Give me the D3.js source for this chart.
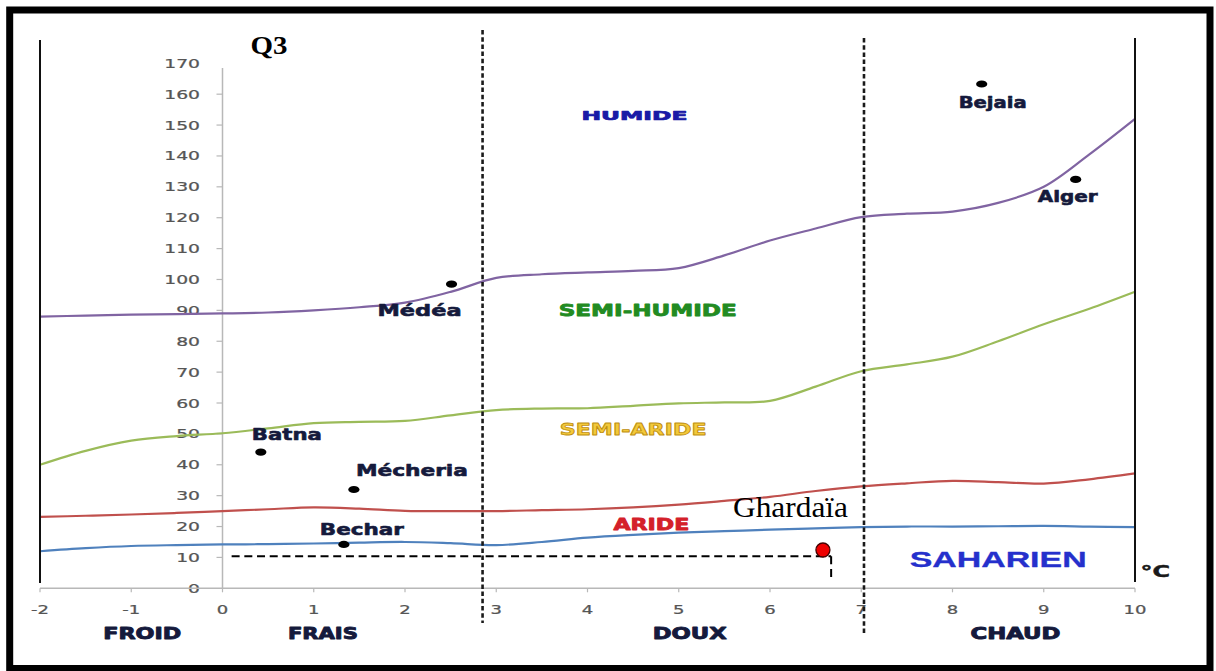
<!DOCTYPE html>
<html><head><meta charset="utf-8">
<script src="https://cdn.jsdelivr.net/npm/d3@7"></script>
<style>html,body{margin:0;padding:0;background:#fff;overflow:hidden}</style>
</head><body><svg id="c" width="1216" height="671"></svg>
<script>
// ---------- DATA ----------
const xTickValues = [-2,-1,0,1,2,3,4,5,6,7,8,9,10];
const yTickValues = [0,10,20,30,40,50,60,70,80,90,100,110,120,130,140,150,160,170];
const tempX = [-2,-1.5,-1,-0.5,0,0.5,1,1.5,2,2.5,3,3.5,4,4.5,5,5.5,6,6.5,7,7.5,8,8.5,9,9.5,10];
const limitHumide     = [88,88.3,88.6,88.8,89,89.3,90,91,92.5,96,100.5,101.7,102.3,102.8,103.7,107.8,112.6,116.5,120.2,121.3,122,124.8,130,140.5,152];
const limitSemiHumide = [40,44.5,47.8,49.3,50.2,51.8,53.5,53.9,54.2,56,57.7,58.2,58.3,59.1,59.9,60.2,60.7,65.3,70.3,72.5,75,80,85.5,90.5,96];
const limitSemiAride  = [23.1,23.5,23.9,24.4,25,25.6,26.2,25.8,25.1,25,25,25.3,25.6,26.2,27.1,28.3,29.6,31.5,33,34,34.8,34.4,33.9,35.3,37.2];
const limitAride      = [12,13,13.7,14,14.2,14.3,14.5,14.8,15,14.6,14,15,16.4,17.3,18,18.5,19,19.4,19.8,20,20,20.1,20.2,20,19.8];
const stationNames = ["Médéa","Batna","Mécheria","Bechar","Bejaia","Alger"];
const stationM     = [2.51,0.42,1.44,1.33,8.32,9.35];
const stationQ3    = [98.5,44.1,32.0,14.2,163.3,132.4];
const ghardaia     = {name:"Ghardaïa", m:6.58, q3:12.4};
const ghardaiaGuide = {m:6.67, q3:10.4, mStart:0.1, q3Bottom:3.3};
const zoneBounds = [2.85, 7.03];
const zoneNames = ["FROID","FRAIS","DOUX","CHAUD"];
const zoneCenters = [-0.88, 1.1, 5.12, 8.69];
const regionNames = ["HUMIDE","SEMI-HUMIDE","SEMI-ARIDE","ARIDE","SAHARIEN"];
const regionM  = [4.515, 4.66, 4.5, 4.7, 8.5];
const regionQ3 = [151.6, 88.2, 49.8, 18.9, 7.0];

// ---------- STYLE ----------
const svg = d3.select("#c");
const x = d3.scaleLinear().domain([-2,10]).range([40,1135]);
const y = d3.scaleLinear().domain([0,170]).range([588.3,63.3]);
const navy = "#151a3c";
const curveColors = ["#8064a2","#9bbb59","#c0504d","#4f81bd"];
const regionStyle = [
  {fill:"#1a1aa6", size:13, w:106, font:"DejaVu Sans", weight:"bold", sw:0.7},
  {fill:"#228b22", size:16, w:178, font:"DejaVu Sans", weight:"bold", sw:0.8},
  {fill:"#f3c93a", size:16, w:147, font:"DejaVu Sans", weight:"bold", stroke:"#c09010", sw:0.8},
  {fill:"#d4202a", size:16, w:76,  font:"DejaVu Sans", weight:"bold", sw:0.8},
  {fill:"#2530cc", size:22, w:177, font:"Liberation Sans", weight:"bold", sw:0.3}
];
const stationLabel = [
  {dx:-32, dy:32, w:84},   // Médéa
  {dx:26,  dy:-12, w:70},  // Batna
  {dx:58,  dy:-13, w:112}, // Mécheria
  {dx:18,  dy:-9, w:84},   // Bechar
  {dx:11,  dy:24, w:68},   // Bejaia
  {dx:-8,  dy:23, w:60}    // Alger
];
const zoneW = [78,70,74,90];

function stretchText(g, px, py, str, opt){
  const t = g.append("text")
    .attr("x", px).attr("y", py)
    .attr("text-anchor", opt.anchor || "middle")
    .attr("font-family", opt.font || "DejaVu Sans")
    .attr("font-weight", opt.weight || "bold")
    .attr("font-size", opt.size)
    .attr("fill", opt.fill || navy)
    .text(str);
  if (opt.w) t.attr("textLength", opt.w).attr("lengthAdjust","spacingAndGlyphs");
  if (opt.sw) t.attr("stroke", opt.stroke || opt.fill || navy).attr("stroke-width", opt.sw).attr("stroke-linejoin","round");
  return t;
}

// frame
svg.append("rect").attr("x",9.7).attr("y",10).attr("width",1200.3).attr("height",658.5)
  .attr("fill","#fff").attr("stroke","#000").attr("stroke-width",7);

// Q3 title
svg.append("text").attr("x",250.5).attr("y",54).attr("font-family","Liberation Serif")
  .attr("font-weight","bold").attr("font-size",25).attr("fill","#000")
  .attr("textLength",37).attr("lengthAdjust","spacingAndGlyphs").text("Q3");

// y axis (grey)
const gy = svg.append("g");
gy.append("line").attr("x1",x(0)).attr("x2",x(0)).attr("y1",68).attr("y2",y(0))
  .attr("stroke","#b8b8b8").attr("stroke-width",1.5);
yTickValues.forEach(v=>{
  if (v>0 && v<170) gy.append("line").attr("x1",x(0)-6).attr("x2",x(0)).attr("y1",y(v)).attr("y2",y(v))
    .attr("stroke","#b8b8b8").attr("stroke-width",1.2);
  gy.append("text").attr("transform",`translate(200,${y(v)+4.5}) scale(1.5,1)`)
    .attr("text-anchor","end").attr("font-family","DejaVu Sans").attr("font-size",12.5)
    .attr("fill","#555").attr("stroke","#555").attr("stroke-width",0.25).text(v);
});
// x axis
const gx = svg.append("g");
gx.append("line").attr("x1",x(-2)).attr("x2",x(10)).attr("y1",y(0)).attr("y2",y(0))
  .attr("stroke","#b8b8b8").attr("stroke-width",1.5);
xTickValues.forEach(v=>{
  gx.append("line").attr("x1",x(v)).attr("x2",x(v)).attr("y1",y(0)).attr("y2",y(0)+4)
    .attr("stroke","#b8b8b8").attr("stroke-width",1.2);
  gx.append("text").attr("transform",`translate(${x(v)},613.5) scale(1.5,1)`)
    .attr("text-anchor","middle").attr("font-family","DejaVu Sans").attr("font-size",12)
    .attr("fill","#555").attr("stroke","#555").attr("stroke-width",0.25).text(v);
});

// limit curves
const series = [limitHumide, limitSemiHumide, limitSemiAride, limitAride];
const line = d3.line().x(d=>x(d[0])).y(d=>y(d[1])).curve(d3.curveCatmullRom.alpha(0.5));
series.forEach((s,i)=>{
  svg.append("path").attr("d", line(tempX.map((t,j)=>[t,s[j]])))
    .attr("fill","none").attr("stroke",curveColors[i]).attr("stroke-width",2.2);
});

// black side lines
svg.append("line").attr("x1",x(-2)).attr("x2",x(-2)).attr("y1",40).attr("y2",583)
  .attr("stroke","#111").attr("stroke-width",2);
svg.append("line").attr("x1",x(10)).attr("x2",x(10)).attr("y1",38).attr("y2",582)
  .attr("stroke","#111").attr("stroke-width",2);

// zone boundaries (dashed)
const zb = [[30,623],[38,633]];
zoneBounds.forEach((b,i)=>{
  svg.append("line").attr("x1",x(b)).attr("x2",x(b)).attr("y1",zb[i][0]).attr("y2",zb[i][1])
    .attr("stroke","#1a1a1a").attr("stroke-width",2.6).attr("stroke-dasharray","4.5,2.7");
});

// zone names
zoneNames.forEach((n,i)=>stretchText(svg, x(zoneCenters[i]), 638.5, n, {size:16, w:zoneW[i], fill:navy, sw:0.9}));

// region names
regionNames.forEach((n,i)=>{
  const st = regionStyle[i];
  stretchText(svg, x(regionM[i]), y(regionQ3[i]), n, {size:st.size, w:st.w, fill:st.fill, font:st.font, weight:st.weight, stroke:st.stroke, sw:st.sw});
});
// °C
stretchText(svg, 1140.5, 577, "°C", {anchor:"start", size:16, w:29.5, fill:"#1a1a1a", sw:0.5});

// stations
stationNames.forEach((n,i)=>{
  const cx = x(stationM[i]), cy = y(stationQ3[i]);
  svg.append("ellipse").attr("cx",cx).attr("cy",cy).attr("rx",5.6).attr("ry",3.6).attr("fill","#000");
  const L = stationLabel[i];
  stretchText(svg, cx+L.dx, cy+L.dy, n, {size:16, w:L.w, fill:navy, sw:0.6});
});

// Ghardaïa guides
svg.append("line").attr("x1",x(ghardaiaGuide.mStart)).attr("x2",x(ghardaiaGuide.m))
  .attr("y1",y(ghardaiaGuide.q3)).attr("y2",y(ghardaiaGuide.q3))
  .attr("stroke","#000").attr("stroke-width",2).attr("stroke-dasharray","8,4.7");
svg.append("line").attr("x1",x(ghardaiaGuide.m)).attr("x2",x(ghardaiaGuide.m))
  .attr("y1",y(ghardaiaGuide.q3)).attr("y2",y(ghardaiaGuide.q3Bottom))
  .attr("stroke","#000").attr("stroke-width",2).attr("stroke-dasharray","8,4.7");
svg.append("circle").attr("cx",x(ghardaia.m)).attr("cy",y(ghardaia.q3)).attr("r",7)
  .attr("fill","#ee0000").attr("stroke","#400").attr("stroke-width",1.3);
svg.append("text").attr("x",733).attr("y",517).attr("font-family","Liberation Serif")
  .attr("font-size",29).attr("fill","#000")
  .attr("textLength",115).attr("lengthAdjust","spacingAndGlyphs").text(ghardaia.name);
</script></body></html>
